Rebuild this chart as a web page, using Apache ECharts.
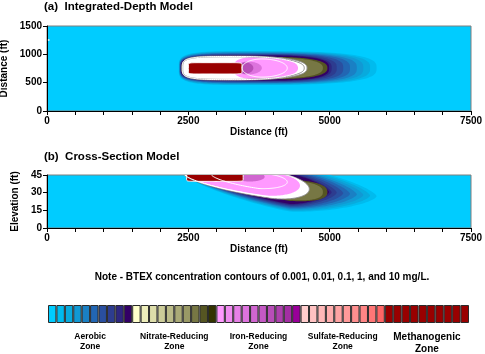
<!DOCTYPE html>
<html><head><meta charset="utf-8">
<script src="https://cdn.jsdelivr.net/npm/echarts@6/dist/echarts.min.js"></script>
<style>html,body{margin:0;padding:0;background:#fff}#c{width:485px;height:354px}</style>
</head><body><div id="c"></div>
<script>
// ---- data ----
const xTicks = [0, 2500, 5000, 7500];
const planYTicks = [0, 500, 1000, 1500];
const sectYTicks = [0, 15, 30, 45];
const aerobicColors = ['#00CCFF','#00BBEE','#08AADD','#1199D4','#1A80C4','#2266B3','#2A4FA0','#2D3C8F','#2E2680','#330066'];
const nitrateColors = ['#FFFFCC','#EEEEBB','#DDDDAA','#CCCC99','#BBBB88','#AAAA77','#999966','#777744','#555522','#333300'];
const ironColors = ['#FF99FF','#F08CF0','#E680E6','#DD73DD','#D066D0','#C459C4','#B84DB8','#AD40AD','#A32EA3','#990099'];
const sulfateColors = ['#FFCCCC','#FFC2C2','#FFB8B8','#FFADAD','#FFA3A3','#FF9999','#FF8F8F','#FF8585','#FF7676','#FF6666'];
const methanoColors = ['#990000','#990000','#990000','#990000','#990000','#990000','#990000','#990000','#990000','#990000'];
const zoneNames = ['Aerobic\nZone','Nitrate-Reducing\nZone','Iron-Reducing\nZone','Sulfate-Reducing\nZone','Methanogenic\nZone'];
// contour bands: [xStart, xWidest, xEnd, yAtStart, yAtWidest, yAtEnd, halfWidth, leftRoundness, rightRoundness, level]
// level: 0-49 = legend colour index, -1 = white halo, -2 = white contour line, -3 = grey contour line
const planBands = [
  [2330,3600,5830,758,758,758,300,4,3,1],
  [2335,3620,5715,758,758,758,290,4,3,2],
  [2340,3640,5595,758,758,758,280,4,3,3],
  [2345,3660,5480,758,758,758,270,4,3,4],
  [2350,3680,5360,758,758,758,260,4,3,5],
  [2355,3700,5240,758,758,758,250,4,3,6],
  [2360,3720,5125,758,758,758,240,4,3,7],
  [2365,3740,5035,758,758,758,230,4,3,8],
  [2370,3760,4990,758,758,758,222,4,3,9],
  [2380,4000,4960,758,758,758,195,4,2.5,18],
  [2385,4000,4880,758,758,758,180,4,2.5,17],
  [2390,3300,4600,758,758,758,212,4,2.5,-1],
  [3300,3800,4440,758,758,758,195,3,2.2,20],
  [3350,3550,3800,758,758,758,115,2,2,23],
  [3400,3500,3650,758,758,758,100,2,2,26],
  [2500,2975,3450,753,753,753,100,10,10,40]
];
const planContours = [
  [2390,3300,4600,758,758,758,212,4,2.5,-3],
  [2400,3300,4550,758,758,758,200,4,2.4,-3],
  [2392,3350,4480,758,758,758,204,4,2.3,-2],
  [3450,3800,4250,758,758,758,160,2,2,-2],
  [2500,2975,3450,753,753,753,100,10,10,-2]
];
const sectBands = [
  [2380,4300,5830,47,33,27.0,19.0,1.5,1.5,1],
  [2385,4300,5715,47,33,27.5,18.2,1.5,1.5,2],
  [2390,4300,5595,47,33,28.0,17.4,1.5,1.5,3],
  [2395,4300,5480,47,33,28.5,16.6,1.5,1.5,4],
  [2400,4300,5360,47,33,29.0,15.8,1.5,1.5,5],
  [2405,4300,5240,47,33,29.5,15.0,1.5,1.5,6],
  [2410,4300,5125,47,33,30.0,14.2,1.5,1.5,7],
  [2415,4300,5035,47,33,30.3,13.4,1.5,1.5,8],
  [2420,4300,4990,47,33,30.5,12.6,1.5,1.5,9],
  [2420,4300,4960,47,32,30.5,9.0,1.5,2.5,18],
  [2425,4300,4880,47,32,30.5,8.2,1.5,2.5,17],
  [2400,4000,4640,47,36,33,11,2,2,-1],
  [2430,3900,4475,47,37.5,36,10,2,2,20],
  [3300,3550,3850,44.5,44,43.5,4.5,2,2,24],
  [2470,2970,3470,43,43,43,3.4,10,10,40]
];
const sectContours = [
  [2400,4000,4640,47,36,33,11,2,2,-3],
  [2415,3950,4560,47,36.8,34.5,10.5,2,2,-2],
  [2900,3750,4250,46,40,39,6.5,2,2,-2],
  [2470,2970,3470,43,43,43,3.4,10,10,-2]
];
const wellPoints = [[30, 1255]];

// ---- rendering ----
const legendColors = [].concat(aerobicColors, nitrateColors, ironColors, sulfateColors, methanoColors);
const FONT = 'Liberation Sans, Arial, sans-serif';

function bandRender(params, api) {
  const b = [];
  for (let i = 0; i < 10; i++) b.push(api.value(i));
  const [xs, xm, xe, yL, yM, yR, hw, pL, pR, lvl] = b;
  const N = 40;
  const xsArr = [];
  for (let i = 0; i <= N; i++) xsArr.push(xm - (xm - xs) * Math.cos(i / N * Math.PI / 2));
  for (let i = 1; i <= N; i++) xsArr.push(xm + (xe - xm) * Math.sin(i / N * Math.PI / 2));
  const half = x => {
    if (x <= xm) { const u = Math.min(1, (xm - x) / (xm - xs)); return hw * Math.pow(Math.max(0, 1 - Math.pow(u, pL)), 1 / pL); }
    const u = Math.min(1, (x - xm) / (xe - xm)); return hw * Math.pow(Math.max(0, 1 - Math.pow(u, pR)), 1 / pR);
  };
  const ctr = x => x <= xm ? yL + (yM - yL) * (x - xs) / (xm - xs) : yM + (yR - yM) * (x - xm) / (xe - xm);
  const pts = [];
  xsArr.forEach(x => pts.push(api.coord([x, ctr(x) + half(x)])));
  for (let i = xsArr.length - 1; i >= 0; i--) { const x = xsArr[i]; pts.push(api.coord([x, ctr(x) - half(x)])); }
  let style;
  if (lvl >= 0) style = { fill: legendColors[lvl], stroke: null };
  else if (lvl === -1) style = { fill: '#FFFFFF', stroke: null };
  else style = { fill: null, stroke: lvl === -2 ? '#FFFFFF' : '#8C8C8C', lineWidth: 1 };
  return { type: 'polygon', shape: { points: pts }, style: style };
}
function bandSeries(data, xi, yi) {
  return { type: 'custom', xAxisIndex: xi, yAxisIndex: yi, clip: true, renderItem: bandRender,
    dimensions: ['xs','xm','xe','yL','yM','yR','hw','pL','pR','lvl'], encode: { x: 0, y: 3 }, data: data, silent: true };
}
function xAxisCfg(gi) {
  return { type: 'value', gridIndex: gi, min: 0, max: 7500, interval: 500,
    name: 'Distance (ft)', nameLocation: 'middle', nameGap: 14,
    nameTextStyle: { fontFamily: FONT, fontWeight: 'bold', fontSize: 10, color: '#000' },
    axisLine: { lineStyle: { color: '#000' } }, axisTick: { length: 4, lineStyle: { color: '#000' } },
    splitLine: { show: false },
    axisLabel: { margin: 5, fontFamily: FONT, fontWeight: 'bold', fontSize: 10, color: '#000',
      formatter: v => xTicks.indexOf(v) >= 0 ? String(v) : '' } };
}
function yAxisCfg(gi, ticks, name, gap) {
  return { type: 'value', gridIndex: gi, min: ticks[0], max: ticks[ticks.length - 1], interval: ticks[1] - ticks[0],
    name: name, nameLocation: 'middle', nameGap: gap,
    nameTextStyle: { fontFamily: FONT, fontWeight: 'bold', fontSize: 10, color: '#000' },
    axisLine: { show: true, lineStyle: { color: '#000' } }, axisTick: { show: true, length: 4, lineStyle: { color: '#000' } },
    splitLine: { show: false },
    axisLabel: { margin: 5, fontFamily: FONT, fontWeight: 'bold', fontSize: 10, color: '#000', formatter: v => String(v) } };
}
const chart = echarts.init(document.getElementById('c'), null, { renderer: 'canvas' });
const groupCenters = [0, 1, 2, 3, 4].map(g => 48 + (g * 10 + 5) * (421 / 50));
const gridBase = { containLabel: false, outerBoundsMode: 'none' };
chart.setOption({
  animation: false,
  backgroundColor: '#fff',
  title: [
    { text: '(a)  Integrated-Depth Model', left: 44, top: 1, padding: 0, textStyle: { fontFamily: FONT, fontWeight: 'bold', fontSize: 11.5, color: '#000' } },
    { text: '(b)  Cross-Section Model', left: 44, top: 151, padding: 0, textStyle: { fontFamily: FONT, fontWeight: 'bold', fontSize: 11.5, color: '#000' } }
  ],
  grid: [
    Object.assign({ left: 47, top: 26, width: 424, height: 85, show: true, backgroundColor: '#00CCFF', borderColor: '#7F7F7F', borderWidth: 1 }, gridBase),
    Object.assign({ left: 47, top: 175, width: 424, height: 53, show: true, backgroundColor: '#00CCFF', borderColor: '#7F7F7F', borderWidth: 1 }, gridBase),
    Object.assign({ left: 48, top: 305, width: 421, height: 18 }, gridBase)
  ],
  xAxis: [ xAxisCfg(0), xAxisCfg(1),
    { type: 'category', gridIndex: 2, data: legendColors.map((c, i) => i), show: false } ],
  yAxis: [ yAxisCfg(0, planYTicks, 'Distance (ft)', 29), yAxisCfg(1, sectYTicks, 'Elevation (ft)', 17),
    { type: 'value', gridIndex: 2, min: 0, max: 1, show: false } ],
  series: [
    bandSeries(planBands, 0, 0), bandSeries(planContours, 0, 0),
    { type: 'scatter', xAxisIndex: 0, yAxisIndex: 0, data: wellPoints, symbolSize: 2, itemStyle: { color: '#fff' }, silent: true },
    bandSeries(sectBands, 1, 1), bandSeries(sectContours, 1, 1),
    { type: 'bar', xAxisIndex: 2, yAxisIndex: 2, barCategoryGap: '0%', silent: true,
      data: legendColors.map(c => ({ value: 1, itemStyle: { color: c, borderColor: '#2a2a2a', borderWidth: 1 } })) }
  ],
  graphic: [
    { type: 'text', x: 262, y: 277, style: { text: 'Note - BTEX concentration contours of 0.001, 0.01, 0.1, 1, and 10 mg/L.', textAlign: 'center', textVerticalAlign: 'middle', font: 'bold 10px ' + FONT, fill: '#000' } }
  ].concat(zoneNames.map((z, i) => ({ type: 'text', x: groupCenters[i], y: i === 4 ? 331 : 332,
    style: { text: z, textAlign: 'center', font: (i === 4 ? 'bold 10px ' : 'bold 8.5px ') + FONT, lineHeight: i === 4 ? 12 : 10, fill: '#000' } })))
});
</script></body></html>
